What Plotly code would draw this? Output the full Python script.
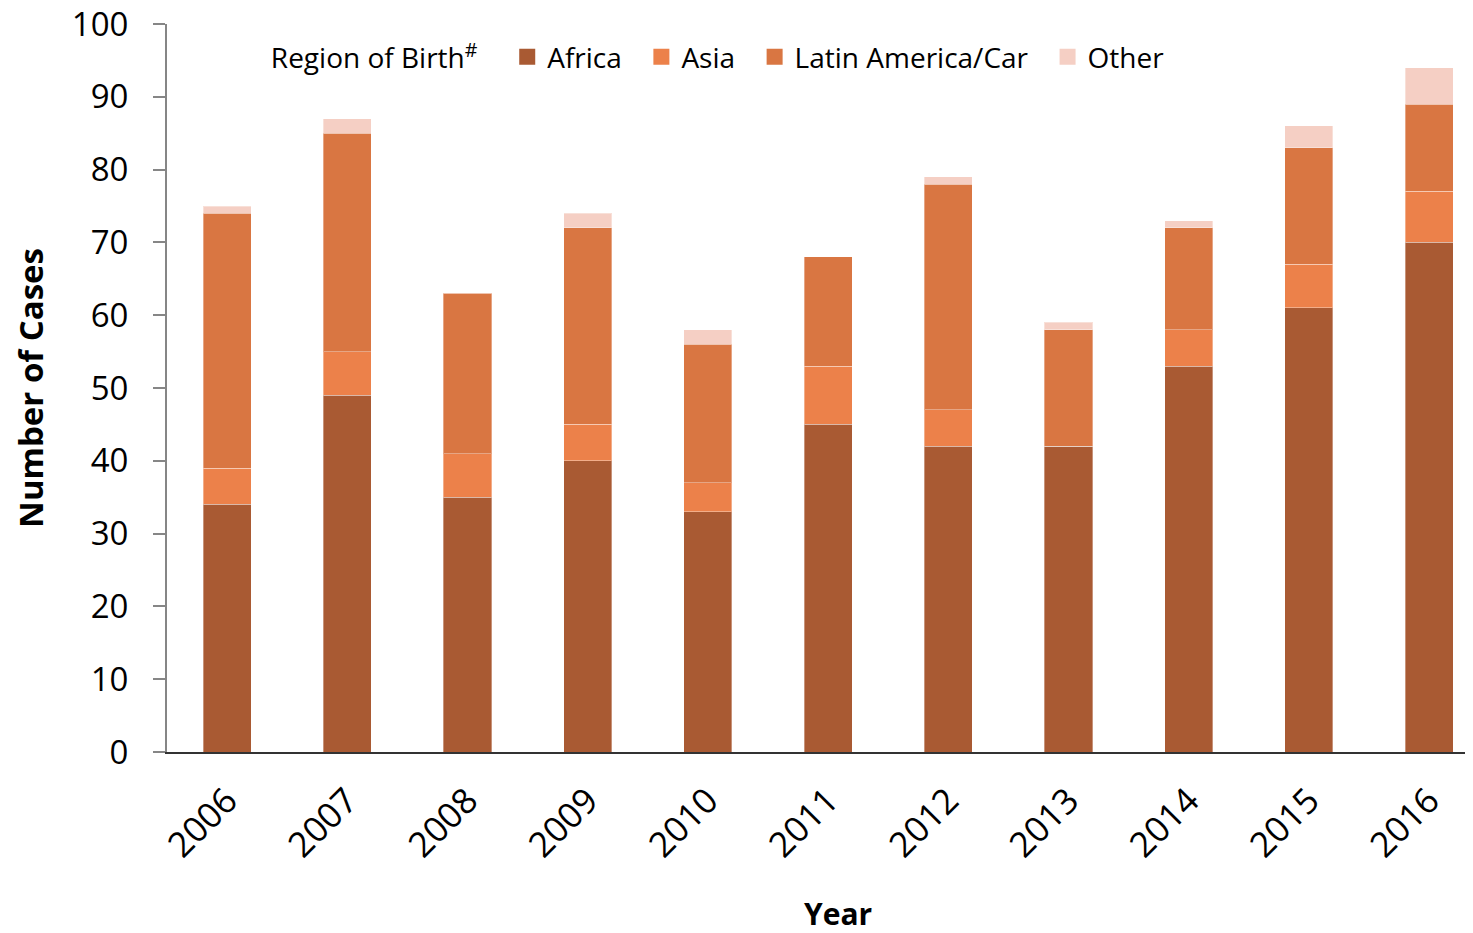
import plotly.graph_objects as go

years = ["2006", "2007", "2008", "2009", "2010", "2011", "2012", "2013", "2014", "2015", "2016"]
africa = [34, 49, 35, 40, 33, 45, 42, 42, 53, 61, 70]
asia = [5, 6, 6, 5, 4, 8, 5, 0, 5, 6, 7]
latin_america = [35, 30, 22, 27, 19, 15, 31, 16, 14, 16, 12]
other = [1, 2, 0, 2, 2, 0, 1, 1, 1, 3, 5]

series = [
    ("Africa", africa, "#a95a33"),
    ("Asia", asia, "#ec814a"),
    ("Latin America/Car", latin_america, "#d97642"),
    ("Other", other, "#f5cfc4"),
]

FONT = "Open Sans"
NBSP = "\u00a0"

fig = go.Figure()
for name, vals, color in series:
    fig.add_trace(go.Bar(
        x=years, y=vals, name=name, showlegend=False,
        marker=dict(color=color, line=dict(color="rgba(255,255,255,0.35)", width=1)),
    ))

# legend entries with bigger square swatches (nbsp padding widens the gaps)
for i, (name, vals, color) in enumerate(series):
    label = name if i == len(series) - 1 else name + NBSP * 2
    fig.add_trace(go.Scatter(
        x=[None], y=[None], mode="markers", name=label,
        marker=dict(symbol="square", size=18, color=color),
    ))

# page body has an 8px margin, so margins are shifted to compensate
fig.update_layout(
    barmode="stack",
    bargap=0.6,
    width=1473, height=933,
    margin=dict(l=159, r=8, t=16, b=189),
    plot_bgcolor="white",
    paper_bgcolor="white",
    font=dict(family=FONT, size=28, color="black"),
    showlegend=True,
    legend=dict(
        orientation="h",
        x=0.078, y=0.989, xanchor="left", yanchor="top",
        title=dict(text="Region of Birth<sup>#</sup>" + NBSP * 3, font=dict(size=28)),
        font=dict(size=28),
        itemwidth=30,
        traceorder="normal",
        bgcolor="rgba(0,0,0,0)",
    ),
)

# x title sits a bit right of the plot centre, as in the original (cropped) chart
fig.add_annotation(
    text="<b>Year</b>", xref="paper", yref="paper",
    x=0.514, y=-0.222, xanchor="center", yanchor="middle",
    showarrow=False, font=dict(size=30),
)

fig.update_xaxes(
    type="category",
    range=[-0.5, 10.365],
    automargin=False,
    showline=True, linecolor="#333333", linewidth=2,
    ticks="", tickangle=-45,
    tickfont=dict(size=35),
    ticklabelstandoff=12,
    showgrid=False,
)
fig.update_yaxes(
    range=[0, 100], dtick=10,
    automargin=False,
    showline=True, linecolor="#868686", linewidth=2,
    ticks="outside", ticklen=12, tickcolor="#868686", tickwidth=2,
    tickfont=dict(size=33),
    ticklabelstandoff=18,
    ticklabeloverflow="allow",
    showgrid=False, zeroline=False,
    title=dict(text="<b>Number of Cases</b>", font=dict(size=33), standoff=31),
)

fig.write_html("out.html")
